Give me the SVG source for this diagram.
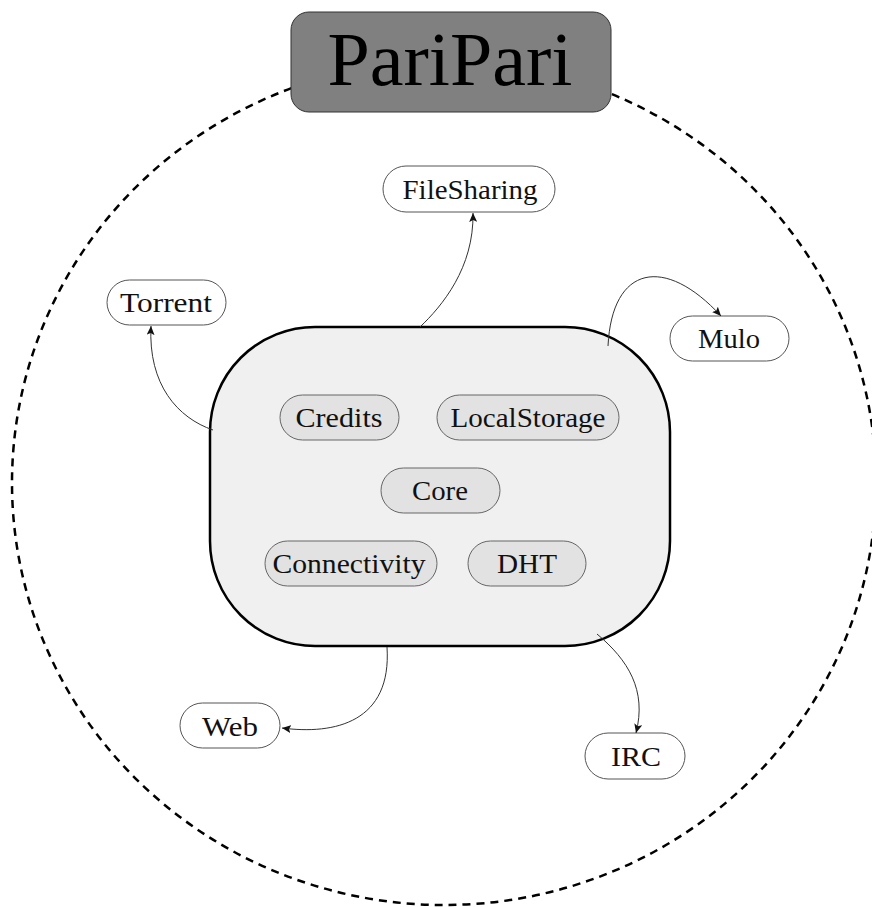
<svg xmlns="http://www.w3.org/2000/svg" width="872" height="907" viewBox="0 0 872 907">
<defs>
<style>
.lbl{font-family:"Liberation Serif","Times New Roman",serif;font-size:28px;fill:#111;text-anchor:middle}
.outer{fill:#fff;stroke:#555;stroke-width:1}
.inner{fill:#e2e2e2;stroke:#666;stroke-width:1}
.conn{fill:none;stroke:#333;stroke-width:1}
</style>
<marker id="arr" markerUnits="userSpaceOnUse" markerWidth="10" markerHeight="8" refX="9" refY="4" orient="auto">
<path d="M0,0 L9,4 L0,8 L2,4 Z" fill="#111"/>
</marker>
</defs>
<rect width="872" height="907" fill="#fff"/>
<ellipse cx="444" cy="483" rx="432" ry="422" fill="none" stroke="#000" stroke-width="2.5" stroke-dasharray="8 6"/>
<g id="paripari">
<rect x="291" y="12" width="320" height="100" rx="18" fill="#808080" stroke="#333" stroke-width="1"/>
<text x="450" y="85" style="font-family:'Liberation Serif','Times New Roman',serif;font-size:76px;fill:#000;text-anchor:middle" textLength="245" lengthAdjust="spacingAndGlyphs">PariPari</text>
</g>
<g id="main">
<rect x="210" y="327" width="460" height="319" rx="105" fill="#f0f0f0" stroke="#000" stroke-width="2.5"/>
</g>
<g id="credits"><rect class="inner" x="280" y="395" width="119" height="45" rx="22.5"/><text class="lbl" x="339" y="427" textLength="87" lengthAdjust="spacingAndGlyphs">Credits</text></g>
<g id="localstorage"><rect class="inner" x="437" y="395" width="182" height="45" rx="22.5"/><text class="lbl" x="528" y="427" textLength="155" lengthAdjust="spacingAndGlyphs">LocalStorage</text></g>
<g id="core"><rect class="inner" x="381" y="468" width="119" height="45" rx="22.5"/><text class="lbl" x="440" y="500" textLength="56" lengthAdjust="spacingAndGlyphs">Core</text></g>
<g id="connectivity"><rect class="inner" x="265" y="541" width="172" height="45" rx="22.5"/><text class="lbl" x="349" y="573" textLength="153" lengthAdjust="spacingAndGlyphs">Connectivity</text></g>
<g id="dht"><rect class="inner" x="468" y="541" width="118" height="45" rx="22.5"/><text class="lbl" x="527" y="573" textLength="60" lengthAdjust="spacingAndGlyphs">DHT</text></g>
<g id="filesharing"><rect class="outer" x="383" y="166" width="172" height="46" rx="23"/><text class="lbl" x="470" y="199" textLength="135" lengthAdjust="spacingAndGlyphs">FileSharing</text></g>
<g id="torrent"><rect class="outer" x="107" y="280" width="119" height="45" rx="22.5"/><text class="lbl" x="166" y="312" textLength="92" lengthAdjust="spacingAndGlyphs">Torrent</text></g>
<g id="mulo"><rect class="outer" x="670" y="316" width="119" height="45" rx="22.5"/><text class="lbl" x="729" y="348" textLength="62" lengthAdjust="spacingAndGlyphs">Mulo</text></g>
<g id="web"><rect class="outer" x="180" y="703" width="100" height="45" rx="22.5"/><text class="lbl" x="230" y="736" textLength="56" lengthAdjust="spacingAndGlyphs">Web</text></g>
<g id="irc"><rect class="outer" x="585" y="733" width="100" height="46" rx="23"/><text class="lbl" x="636" y="766" textLength="50" lengthAdjust="spacingAndGlyphs">IRC</text></g>
<g id="connectors">
<path class="conn" marker-end="url(#arr)" d="M420,327 C442,306 474,268 473,213"/>
<path class="conn" marker-end="url(#arr)" d="M213,430 C178,418 148,385 151,326"/>
<path class="conn" marker-end="url(#arr)" d="M608,346 C612,265 665,255 721,316"/>
<path class="conn" marker-end="url(#arr)" d="M387,647 C392,722 335,735 282,728"/>
<path class="conn" marker-end="url(#arr)" d="M597,634 C628,660 647,690 636,733"/>
</g>
</svg>
